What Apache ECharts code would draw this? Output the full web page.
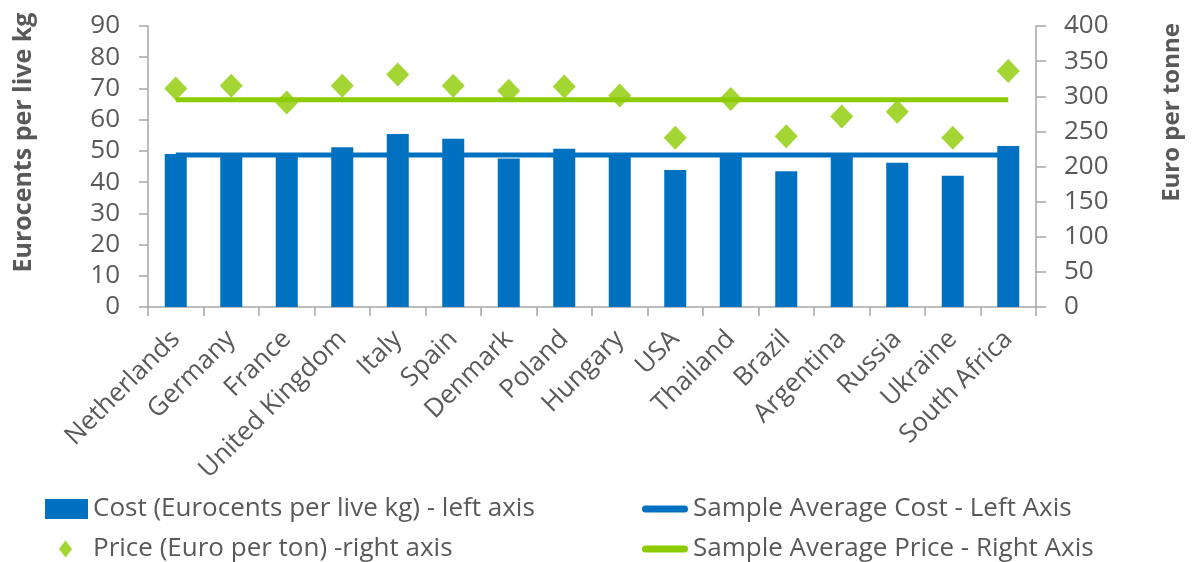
<!DOCTYPE html>
<html>
<head>
<meta charset="utf-8">
<script src="https://cdn.jsdelivr.net/npm/echarts@6/dist/echarts.min.js"></script>
<style>
  html, body { margin: 0; padding: 0; background: #fff; }
  #chart { width: 1192px; height: 562px; }
</style>
</head>
<body>
<div id="chart"></div>
<script>
// Production cost vs. price, by country
const countries = ['Netherlands', 'Germany', 'France', 'United Kingdom', 'Italy', 'Spain', 'Denmark', 'Poland',
  'Hungary', 'USA', 'Thailand', 'Brazil', 'Argentina', 'Russia', 'Ukraine', 'South Africa'];
// Eurocents per live kg (left axis)
const costValues = [49.0, 49.0, 49.0, 51.2, 55.4, 53.9, 47.6, 50.7, 49.0, 43.9, 49.0, 43.5, 49.0, 46.2, 42.0, 51.6];
// Euro per tonne (right axis)
const priceValues = [311, 315, 291, 315, 331, 315, 308, 314, 301, 241, 296, 243, 271, 278, 241, 336];
// Sample averages
const avgCostValues = [48.7, 48.7, 48.7, 48.7, 48.7, 48.7, 48.7, 48.7, 48.7, 48.7, 48.7, 48.7, 48.7, 48.7, 48.7, 48.7];
const avgPriceValues = [295, 295, 295, 295, 295, 295, 295, 295, 295, 295, 295, 295, 295, 295, 295, 295];
const leftTicks = [0, 10, 20, 30, 40, 50, 60, 70, 80, 90];
const rightTicks = [0, 50, 100, 150, 200, 250, 300, 350, 400];

const names = {
  cost: 'Cost (Eurocents per live kg) - left axis',
  avgCost: 'Sample Average Cost - Left Axis',
  price: 'Price (Euro per ton) -right axis',
  avgPrice: 'Sample Average Price - Right Axis'
};

const BLUE = '#0070C0';
const GREEN = '#8CCB00';
const GREY = '#595959';
const AXIS = '#A6A6A6';
const FONT = '"Open Sans", "Liberation Sans", sans-serif';
// rounded bar used as the legend icon of the average lines
const PILL = 'path://M3.5,0 H42.5 A3.5,3.5 0 0 1 42.5,7 H3.5 A3.5,3.5 0 0 1 3.5,0 Z';

const chart = echarts.init(document.getElementById('chart'));

function legendAt(name, left, top, icon, w, h, pad) {
  return {
    data: [{ name: name, icon: icon }],
    left: left, top: top,
    itemWidth: w, itemHeight: h,
    padding: 0,
    selectedMode: false,
    textStyle: { color: GREY, fontSize: 26, lineHeight: 32, fontFamily: FONT, padding: pad || 0 }
  };
}

chart.setOption({
  animation: false,
  textStyle: { fontFamily: FONT },
  grid: { left: 148, right: 153, top: 26, bottom: 255 },
  legend: [
    legendAt(names.cost, 45, 493, 'rect', 43, 20),
    legendAt(names.avgCost, 642, 493, PILL, 46, 7),
    legendAt(names.price, 59, 533, 'diamond', 13, 17, [0, 0, 0, 16]),
    legendAt(names.avgPrice, 642, 533, PILL, 46, 7)
  ],
  xAxis: {
    type: 'category',
    data: countries,
    axisLine: { lineStyle: { color: AXIS, width: 1.5 } },
    axisTick: { show: true, length: 9, lineStyle: { color: AXIS, width: 1.5 } },
    axisLabel: { rotate: 45, color: GREY, fontSize: 26, margin: 28, interval: 0 }
  },
  yAxis: [
    {
      type: 'value', min: 0, max: 90, interval: 10, position: 'left',
      name: 'Eurocents per live kg',
      nameLocation: 'middle', nameRotate: 90, nameGap: 112,
      nameTextStyle: { color: GREY, fontSize: 25, fontWeight: 'bold', padding: [0, 0, 0, 48] },
      axisLine: { show: true, lineStyle: { color: AXIS, width: 1.5 } },
      axisTick: { show: true, length: 9, lineStyle: { color: AXIS, width: 1.5 } },
      axisLabel: { color: GREY, fontSize: 26, margin: 28,
        formatter: v => leftTicks.includes(v) ? String(v) : '' },
      splitLine: { show: false }
    },
    {
      type: 'value', min: 0, max: 400, interval: 50, position: 'right',
      name: 'Euro per tonne',
      nameLocation: 'middle', nameRotate: 90, nameGap: 124,
      nameTextStyle: { color: GREY, fontSize: 24, fontWeight: 'bold', padding: [0, 0, 0, 108] },
      axisLine: { show: true, lineStyle: { color: AXIS, width: 1.5 } },
      axisTick: { show: true, length: 10, lineStyle: { color: AXIS, width: 1.5 } },
      axisLabel: { color: GREY, fontSize: 26, margin: 28,
        formatter: v => rightTicks.includes(v) ? String(v) : '' },
      splitLine: { show: false }
    }
  ],
  series: [
    {
      name: names.cost, type: 'bar', yAxisIndex: 0,
      data: costValues, barWidth: 22,
      itemStyle: { color: BLUE }, z: 1
    },
    {
      name: names.avgCost, type: 'line', yAxisIndex: 0,
      data: avgCostValues, showSymbol: false, symbol: 'none',
      lineStyle: { color: BLUE, width: 5 }, itemStyle: { color: BLUE }, z: 2
    },
    {
      name: names.price, type: 'scatter', yAxisIndex: 1,
      data: priceValues, symbol: 'diamond', symbolSize: [23, 24],
      itemStyle: { color: GREEN }, z: 4
    },
    {
      name: names.avgPrice, type: 'line', yAxisIndex: 1,
      data: avgPriceValues, showSymbol: false, symbol: 'none',
      lineStyle: { color: GREEN, width: 5 }, itemStyle: { color: GREEN }, z: 3
    }
  ]
});
</script>
</body>
</html>
